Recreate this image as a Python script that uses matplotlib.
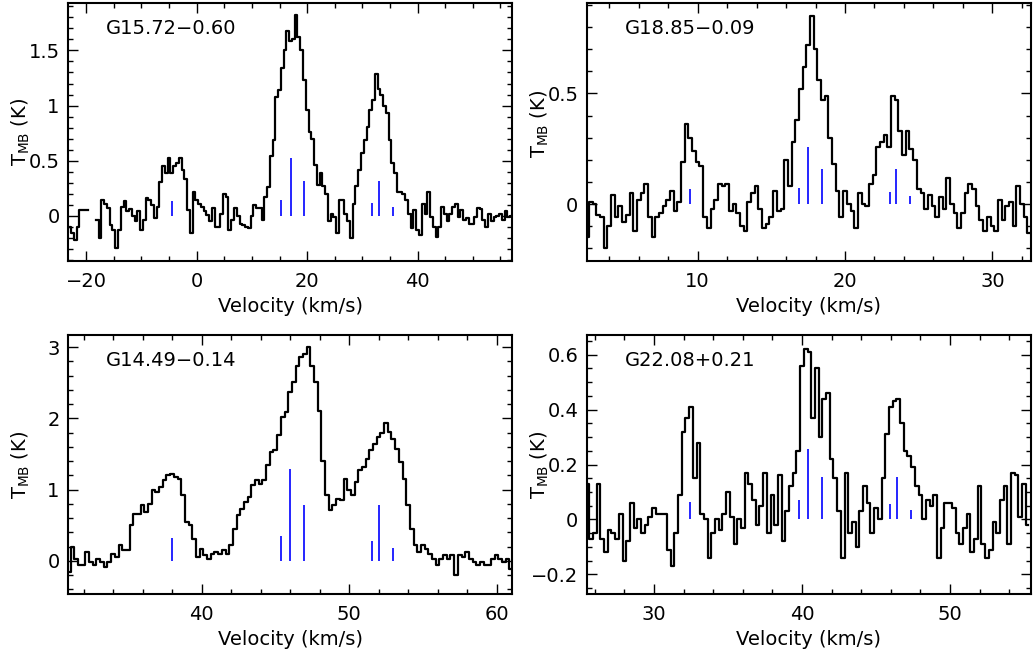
import numpy as np
import matplotlib
matplotlib.use("Agg")
import matplotlib.pyplot as plt
from matplotlib.ticker import MultipleLocator, FuncFormatter

# N2H+ (1-0) spectra, channel grid given by start velocity and channel width (km/s)
names = ["G15.72\u22120.60", "G18.85\u22120.09", "G14.49\u22120.14", "G22.08+0.21"]

g1572_v0, g1572_dv = -23.0, 0.5
g1572_t = [
    -0.10, -0.16, -0.22, -0.10, 0.05, 0.05, 0.05, np.nan, np.nan, np.nan,
    -0.04, -0.20, 0.14, 0.11, 0.07, -0.08, -0.13, -0.29, -0.13, 0.08,
    0.13, 0.04, 0.06, 0.00, -0.05, 0.04, -0.13, -0.04, 0.16, 0.14,
    0.10, -0.02, 0.08, 0.31, 0.45, 0.39, 0.52, 0.39, 0.45, 0.48,
    0.52, 0.42, 0.33, 0.05, -0.16, 0.22, 0.14, 0.11, 0.08, 0.04,
    0.01, -0.05, 0.07, -0.10, -0.10, 0.02, 0.20, 0.17, -0.13, -0.04,
    0.07, 0.00, -0.07, -0.08, -0.10, -0.11, 0.00, 0.10, 0.07, 0.07,
    -0.04, 0.17, 0.26, 0.54, 0.69, 1.08, 1.14, 1.34, 1.50, 1.68,
    1.59, 1.60, 1.82, 1.62, 1.50, 1.23, 0.96, 0.76, 0.70, 0.46,
    0.28, 0.39, 0.27, 0.20, -0.05, 0.02, -0.01, -0.16, 0.14, 0.14,
    0.02, -0.05, -0.20, 0.11, 0.27, 0.42, 0.57, 0.69, 0.81, 0.96,
    1.05, 1.29, 1.15, 1.10, 1.00, 0.93, 0.69, 0.48, 0.39, 0.22,
    0.22, 0.20, 0.14, 0.02, -0.11, 0.05, -0.13, -0.17, 0.11, 0.02,
    0.22, -0.01, -0.10, -0.19, -0.10, 0.08, 0.02, -0.05, 0.02, 0.08,
    0.11, -0.01, 0.05, -0.04, -0.02, -0.07, -0.07, -0.01, 0.07, 0.06,
    -0.04, -0.10, 0.02, -0.05, -0.01, 0.00, 0.02, -0.04, 0.04, -0.01,
    0.00,
]

g1885_v0, g1885_dv = 2.5, 0.25
g1885_t = [
    -0.15, 0.01, 0.00, -0.05, -0.06, -0.20, -0.10, 0.04,
    -0.06, -0.01, -0.08, -0.05, 0.05, -0.12, 0.02, 0.05,
    0.09, -0.06, -0.15, -0.06, -0.04, -0.01, 0.02, 0.06,
    -0.03, 0.01, 0.19, 0.36, 0.30, 0.24, 0.19, 0.17,
    -0.06, -0.11, -0.02, 0.02, 0.09, 0.08, 0.09, -0.03,
    0.00, -0.04, -0.10, -0.12, 0.01, 0.05, 0.08, -0.02,
    -0.11, -0.09, -0.06, 0.06, -0.03, -0.02, 0.20, 0.08,
    0.28, 0.38, 0.52, 0.62, 0.72, 0.85, 0.70, 0.56,
    0.47, 0.49, 0.30, 0.18, 0.06, -0.06, 0.06, 0.00,
    -0.03, -0.11, 0.05, 0.00, -0.01, 0.09, 0.13, 0.26,
    0.28, 0.31, 0.26, 0.49, 0.47, 0.33, 0.22, 0.33,
    0.25, 0.20, 0.07, 0.05, -0.02, 0.04, -0.01, -0.06,
    0.03, -0.02, 0.12, 0.00, -0.04, -0.11, -0.04, 0.05,
    0.09, 0.07, -0.01, -0.07, -0.12, -0.06, -0.10, -0.12,
    0.02, -0.07, -0.01, 0.01, -0.10, 0.08, 0.00, -0.06,
    -0.13,
]

g1449_v0, g1449_dv = 31.0, 0.25
g1449_t = [
    -0.15, 0.20, 0.03, -0.06, -0.06, 0.13, -0.01, -0.06,
    0.03, -0.01, -0.08, -0.01, 0.10, 0.05, 0.22, 0.15,
    0.15, 0.50, 0.66, 0.66, 0.78, 0.69, 0.80, 0.99,
    0.97, 1.04, 1.13, 1.20, 1.22, 1.18, 1.15, 0.92,
    0.55, 0.50, 0.31, 0.06, 0.17, 0.08, 0.03, 0.10,
    0.12, 0.10, 0.15, 0.09, 0.22, 0.45, 0.64, 0.73,
    0.83, 0.90, 1.06, 1.13, 1.08, 1.13, 1.34, 1.53,
    1.55, 1.76, 2.02, 2.09, 2.37, 2.51, 2.74, 2.86,
    2.91, 3.00, 2.74, 2.51, 2.10, 1.40, 0.92, 0.71,
    0.78, 0.87, 0.85, 1.15, 0.99, 0.92, 1.11, 1.27,
    1.32, 1.43, 1.55, 1.64, 1.74, 1.79, 1.93, 1.81,
    1.71, 1.57, 1.39, 1.15, 0.78, 0.45, 0.22, 0.13,
    0.22, 0.17, 0.10, 0.03, -0.06, 0.03, 0.08, 0.03,
    0.08, -0.20, 0.08, 0.06, 0.13, 0.03, -0.01, -0.06,
    -0.01, -0.06, -0.06, 0.03, 0.08, 0.03, -0.01, 0.03,
    -0.11,
]

g2208_v0, g2208_dv = 25.5, 0.25
g2208_t = [
    0.13, -0.07, -0.05, 0.13, -0.07, -0.12, -0.04, -0.05,
    -0.07, 0.02, -0.15, -0.08, 0.06, -0.03, 0.00, -0.05,
    -0.02, 0.01, 0.04, 0.02, 0.02, 0.02, -0.11, -0.17,
    -0.05, 0.09, 0.32, 0.37, 0.41, 0.15, 0.28, 0.02,
    0.00, -0.14, -0.05, 0.00, -0.04, 0.02, 0.10, 0.01,
    -0.09, 0.00, -0.03, 0.17, 0.13, 0.07, -0.02, 0.05,
    0.17, -0.05, 0.09, -0.02, 0.16, -0.08, 0.03, 0.12,
    0.17, 0.25, 0.56, 0.62, 0.61, 0.37, 0.55, 0.30,
    0.44, 0.46, 0.22, 0.15, 0.03, -0.14, 0.17, -0.05,
    -0.01, -0.10, 0.03, 0.12, 0.06, -0.05, 0.04, 0.00,
    0.15, 0.31, 0.41, 0.43, 0.44, 0.35, 0.25, 0.23,
    0.19, 0.12, 0.09, 0.00, 0.07, 0.05, 0.09, -0.14,
    -0.03, 0.06, 0.06, 0.04, -0.05, -0.09, -0.03, 0.02,
    -0.12, -0.07, 0.12, -0.09, -0.14, -0.11, -0.01, -0.05,
    0.07, 0.12, -0.09, 0.17, 0.16, 0.01, 0.13, -0.02,
]

# hyperfine components: velocity and relative strength
g1572_hfs_v = [-4.5, 15.3, 17.0, 19.5, 31.8, 33.0, 35.6]
g1572_hfs_h = [0.13, 0.145, 0.52, 0.316, 0.115, 0.316, 0.08]
g1885_hfs_v = [9.48, 16.87, 17.5, 18.45, 23.04, 23.49, 24.44]
g1885_hfs_h = [0.066, 0.074, 0.259, 0.157, 0.056, 0.157, 0.036]
g1449_hfs_v = [37.99, 45.38, 46.03, 46.96, 51.57, 52.02, 53.0]
g1449_hfs_h = [0.318, 0.355, 1.294, 0.78, 0.28, 0.78, 0.18]
g2208_hfs_v = [32.43, 39.78, 40.41, 41.35, 45.95, 46.4, 47.34]
g2208_hfs_h = [0.064, 0.07, 0.258, 0.155, 0.056, 0.155, 0.034]


def tick_fmt(x, pos):
    if abs(x) < 1e-9:
        return "0"
    return f"{round(x, 6):g}".replace("-", "\u2212")


def plot_spectrum(ax, name, v0, dv, temps, hfs_v, hfs_h, xlim, ylim, xticks, yticks,
                  label_y=0.5):
    temps = np.array(temps, dtype=float)
    vel = v0 + dv * np.arange(len(temps))
    ax.step(vel, temps, where="mid", color="black", lw=1.6)
    ax.vlines(hfs_v, 0, hfs_h, color="blue", lw=1.2)

    ax.set_xlim(*xlim)
    ax.set_ylim(*ylim)
    ax.xaxis.set_major_locator(MultipleLocator(xticks[0]))
    ax.xaxis.set_minor_locator(MultipleLocator(xticks[1]))
    ax.yaxis.set_major_locator(MultipleLocator(yticks[0]))
    ax.yaxis.set_minor_locator(MultipleLocator(yticks[1]))
    ax.xaxis.set_major_formatter(FuncFormatter(tick_fmt))
    ax.yaxis.set_major_formatter(FuncFormatter(tick_fmt))
    ax.tick_params(which="both", direction="in", top=True, right=True,
                   width=1.0, labelsize=14)
    ax.tick_params(which="major", length=7)
    ax.tick_params(which="minor", length=3.5)
    ax.tick_params(axis="x", pad=8)
    ax.tick_params(axis="y", pad=6)
    for sp in ax.spines.values():
        sp.set_linewidth(1.5)

    ax.text(0.085, 0.90, name, transform=ax.transAxes, fontsize=14,
            ha="left", va="center")
    ax.set_xlabel("Velocity (km/s)", fontsize=14, labelpad=4)
    ax.set_ylabel(r"T$_{\mathrm{MB}}$ (K)", fontsize=14)
    ax.yaxis.set_label_coords(-0.081, label_y)


fig = plt.figure(figsize=(10.34, 6.58), dpi=100)
ax_tl = fig.add_axes([0.0658, 0.6033, 0.4294, 0.3921])
ax_tr = fig.add_axes([0.5674, 0.6033, 0.4294, 0.3921])
ax_bl = fig.add_axes([0.0658, 0.0968, 0.4294, 0.3941])
ax_br = fig.add_axes([0.5674, 0.0968, 0.4294, 0.3941])

plot_spectrum(ax_tl, names[0], g1572_v0, g1572_dv, g1572_t, g1572_hfs_v, g1572_hfs_h,
              (-23.3, 57.1), (-0.41, 1.93), (20, 5), (0.5, 0.1))
plot_spectrum(ax_tr, names[1], g1885_v0, g1885_dv, g1885_t, g1885_hfs_v, g1885_hfs_h,
              (2.47, 32.6), (-0.257, 0.908), (10, 2), (0.5, 0.1), label_y=0.53)
plot_spectrum(ax_bl, names[2], g1449_v0, g1449_dv, g1449_t, g1449_hfs_v, g1449_hfs_h,
              (30.95, 61.05), (-0.47, 3.17), (10, 2), (1, 0.2))
plot_spectrum(ax_br, names[3], g2208_v0, g2208_dv, g2208_t, g2208_hfs_v, g2208_hfs_h,
              (25.45, 55.45), (-0.273, 0.672), (10, 2), (0.2, 0.05))

fig.savefig("out.png", dpi=100)
